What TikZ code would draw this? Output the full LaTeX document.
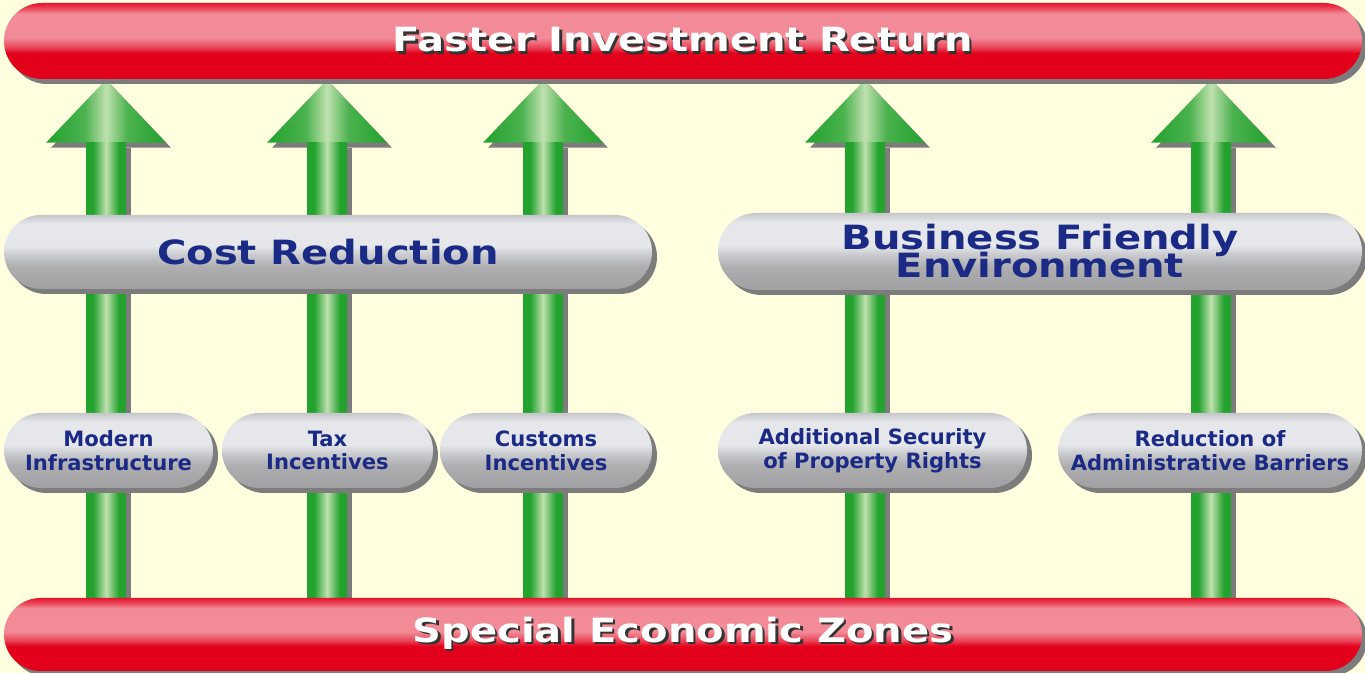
\documentclass[tikz,border=0pt]{standalone}
\usepackage{fontspec}
\setmainfont{DejaVu Sans}
\newfontfamily\widefont[FakeStretch=1.2]{DejaVu Sans}
\usetikzlibrary{shapes.misc,shadows}

\definecolor{paper}{HTML}{FFFFE0}
\definecolor{barred}{HTML}{E2001A}
\definecolor{barpink}{HTML}{F28B97}
\definecolor{pilllight}{HTML}{E5E7EB}
\definecolor{pilldark}{HTML}{AEAEB1}
\definecolor{pilledge}{HTML}{C4C6CA}
\definecolor{navy}{HTML}{1B2A85}
\definecolor{arrowgreen}{HTML}{23A22E}
\definecolor{arrowlight}{HTML}{BFE0AE}
\definecolor{shadowgray}{HTML}{7C7C7C}

% glossy fills
\pgfdeclareverticalshading{redbar}{100bp}{color(0bp)=(barred); color(42bp)=(barred); color(46bp)=(barred!50!barpink); color(52bp)=(barpink); color(68bp)=(barpink); color(72bp)=(barred!55!barpink); color(75bp)=(barred!85!barpink); color(100bp)=(barred)}
\pgfdeclareverticalshading{pillshade}{100bp}{color(0bp)=(pilldark); color(25bp)=(pilldark!92!black); color(40bp)=(pilldark); color(48bp)=(pilldark!50!pilllight); color(54bp)=(pilllight); color(69bp)=(pilllight); color(75bp)=(pilledge); color(100bp)=(pilledge)}
\pgfdeclarehorizontalshading{headshade}{100bp}{color(0bp)=(arrowgreen); color(25bp)=(arrowgreen); color(41bp)=(arrowgreen!75!arrowlight); color(50bp)=(arrowlight); color(59bp)=(arrowgreen!75!arrowlight); color(75bp)=(arrowgreen); color(100bp)=(arrowgreen)}
\pgfdeclarehorizontalshading{shaftshade}{100bp}{color(0bp)=(arrowgreen); color(25bp)=(arrowgreen); color(34bp)=(arrowgreen); color(50bp)=(arrowlight); color(66bp)=(arrowgreen); color(75bp)=(arrowgreen); color(100bp)=(arrowgreen)}

\pgfdeclarelayer{paper}
\pgfdeclarelayer{arrows}
\pgfsetlayers{paper,arrows,main}

% white heading with a dark offset copy behind it
\newcommand{\liftedtext}[1]{\leavevmode\rlap{\kern0.7pt\raisebox{-0.7pt}{\textcolor{black!80}{#1}}}#1}
% let two heading lines sit closer than their letters allow
\newcommand{\tightlines}{\lineskiplimit=-5pt\relax}

\begin{document}
\begin{tikzpicture}[
        shade/.style={drop shadow={shadow xshift=0.05cm, shadow yshift=-0.05cm, fill=shadowgray, opacity=1}},
        bar/.style={rounded rectangle, shading=redbar, shade, inner sep=0pt, minimum width=13.58cm,
            text=white, font=\widefont\fontsize{9.5}{11}\selectfont\bfseries},
        group/.style={rounded rectangle, shading=pillshade, shade, inner sep=0pt, align=center,
            text=navy, font=\widefont\fontsize{9.5}{8}\selectfont\bfseries\tightlines},
        item/.style={rounded rectangle, shading=pillshade, shade, inner sep=0pt, minimum height=0.75cm,
            align=center, text=navy, font=\fontsize{6}{6.8}\selectfont\bfseries},
        shaft/.style={shading=shaftshade, shade},
        head/.style={shading=headshade, shade}
    ]
        \useasboundingbox (0,0) rectangle (13.65,6.73);
        \begin{pgfonlayer}{paper}
            \fill[paper] (0,0) rectangle (13.65,6.73);
        \end{pgfonlayer}

        % Top and bottom bars
        \node[bar, minimum height=0.76cm] (goal) at (6.83, 6.32) {\liftedtext{Faster Investment Return}};
        \node[bar, minimum height=0.73cm] (zones) at (6.83, 0.385) {\liftedtext{Special Economic Zones}};

        % Two groups
        \node[group, minimum width=6.48cm, minimum height=0.74cm] (cost) at (3.28, 4.21) {Cost Reduction};
        \node[group, minimum width=6.44cm, minimum height=0.77cm] (business) at (10.40, 4.215) {Business Friendly\\Environment};

        % Single measures
        \node[item, minimum width=2.09cm] (infra) at (1.085, 2.225) {Modern\\Infrastructure};
        \node[item, minimum width=2.11cm] (tax) at (3.275, 2.225) {Tax\\Incentives};
        \node[item, minimum width=2.12cm] (customs) at (5.46, 2.225) {Customs\\Incentives};
        \node[item, minimum width=3.09cm] (property) at (8.725, 2.225) {Additional Security\\of Property Rights};
        \node[item, minimum width=3.04cm] (barriers) at (12.10, 2.225) {Reduction of\\Administrative Barriers};

        % Green arrows from the zones up to the return
        \begin{pgfonlayer}{arrows}
            \foreach \x [count=\i] in {1.06, 3.27, 5.43, 8.65, 12.11} {
                \coordinate (col\i) at (\x, 0);
                \coordinate (foot\i) at (col\i |- zones.north);
                \coordinate (tip\i) at (col\i |- goal.south);
                \path[head] (tip\i) -- ++(-0.6, -0.63) -- ++(1.2, 0) -- cycle;
                \path[shaft] ([xshift=-0.2cm]foot\i) rectangle ([xshift=0.2cm, yshift=-0.63cm]tip\i);
            }
        \end{pgfonlayer}

    \end{tikzpicture}
\end{document}
